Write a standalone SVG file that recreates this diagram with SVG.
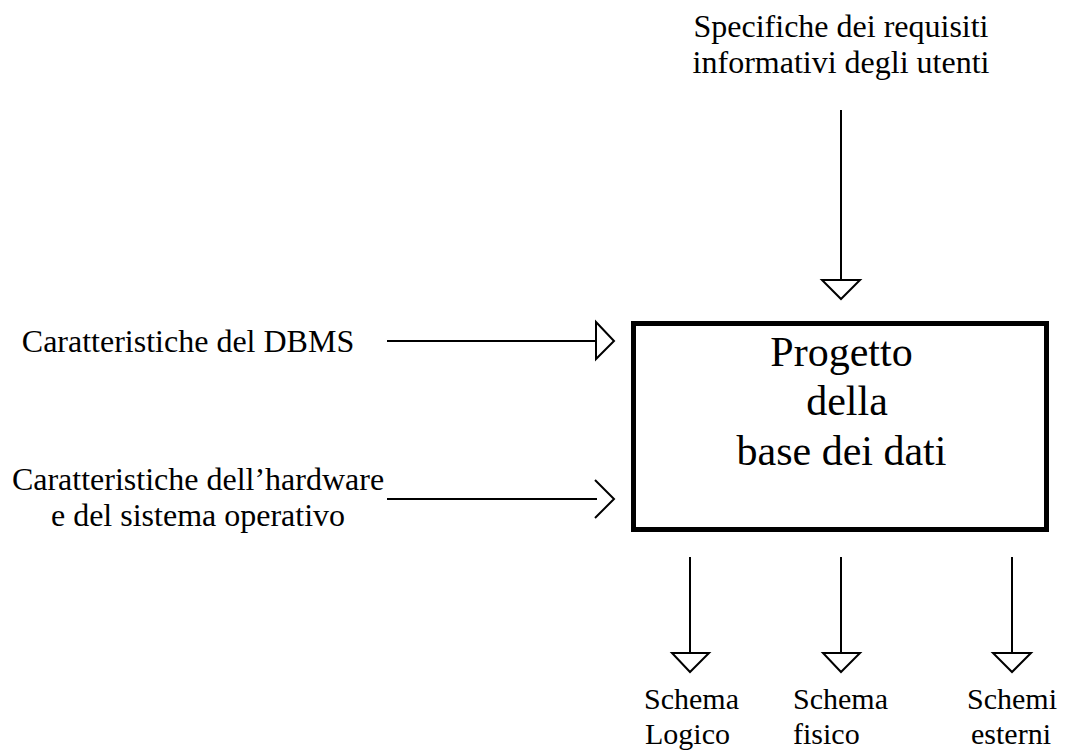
<svg xmlns="http://www.w3.org/2000/svg" width="1071" height="751" viewBox="0 0 1071 751">
<style>
text{font-family:"Liberation Serif","Times New Roman",serif;fill:#000;}
.lbl{font-size:32px;}
.sm{font-size:30px;}
.big{font-size:42px;}
.ln{stroke:#000;stroke-width:2;fill:none;}
.head{stroke:#000;stroke-width:2;fill:#fff;stroke-linejoin:miter;}
</style>
<rect width="1071" height="751" fill="#fff"/>
<g id="connectors">
  <line class="ln" x1="841" y1="110" x2="841" y2="282"/>
  <polygon class="head" points="822,280 860,280 841,299"/>
  <line class="ln" x1="387" y1="341" x2="596" y2="341"/>
  <polygon class="head" points="596,322 614,341 596,359"/>
  <line class="ln" x1="387" y1="499" x2="597" y2="499"/>
  <polyline class="ln" points="595,480 614,499 595,518"/>
  <line class="ln" x1="690" y1="557" x2="690" y2="654"/>
  <polygon class="head" points="672,653 709,653 690,672"/>
  <line class="ln" x1="841" y1="557" x2="841" y2="654"/>
  <polygon class="head" points="823,653 860,653 841,672"/>
  <line class="ln" x1="1012" y1="557" x2="1012" y2="654"/>
  <polygon class="head" points="993,653 1031,653 1012,672"/>
</g>
<g id="node-progetto">
  <rect x="633.5" y="323.5" width="413" height="206" fill="#fff" stroke="#000" stroke-width="5"/>
  <text class="big" text-anchor="middle"><tspan x="841.5" y="366">Progetto</tspan><tspan x="847" y="415">della</tspan><tspan x="841.5" y="465">base dei dati</tspan></text>
</g>
<g id="node-specifiche">
  <text class="lbl" text-anchor="middle"><tspan x="841" y="37">Specifiche dei requisiti</tspan><tspan x="841" y="73">informativi degli utenti</tspan></text>
</g>
<g id="node-dbms">
  <text class="lbl" x="188" y="352" text-anchor="middle">Caratteristiche del DBMS</text>
</g>
<g id="node-hardware">
  <text class="lbl" text-anchor="middle"><tspan x="198" y="490">Caratteristiche dell’hardware</tspan><tspan x="198" y="526">e del sistema operativo</tspan></text>
</g>
<g id="node-logico">
  <text class="sm"><tspan x="644" y="709">Schema</tspan><tspan x="645" y="744">Logico</tspan></text>
</g>
<g id="node-fisico">
  <text class="sm"><tspan x="793" y="709">Schema</tspan><tspan x="793" y="744">fisico</tspan></text>
</g>
<g id="node-esterni">
  <text class="sm" text-anchor="middle"><tspan x="1012" y="709">Schemi</tspan><tspan x="1011" y="744">esterni</tspan></text>
</g>
</svg>
